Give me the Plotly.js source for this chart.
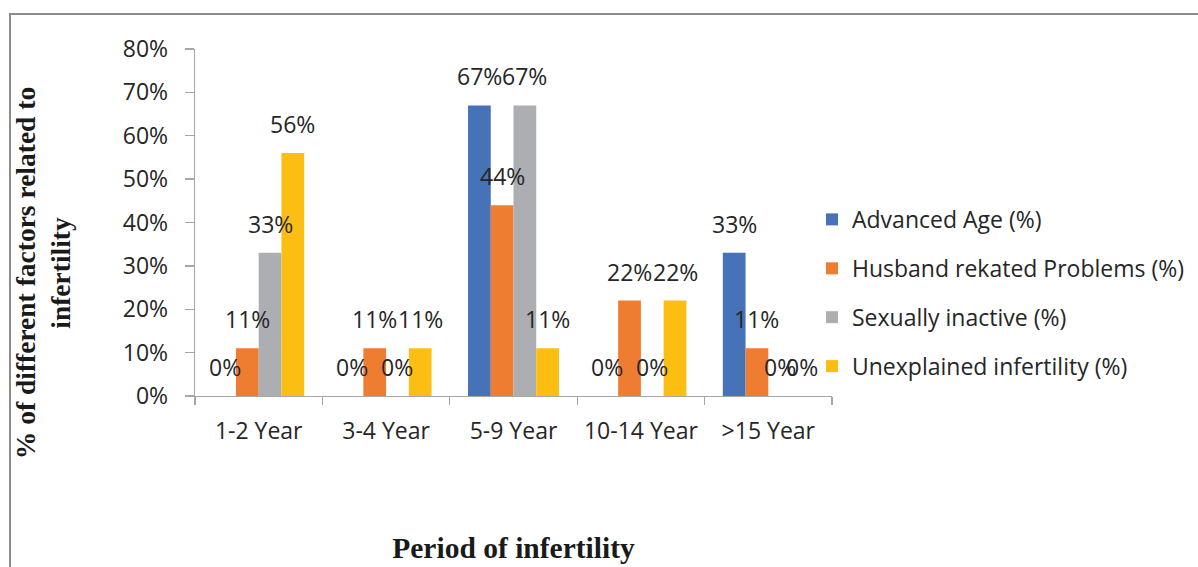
<!DOCTYPE html>
<html>
<head>
<meta charset="utf-8">
<script src="https://cdn.plot.ly/plotly-3.0.1.min.js"></script>
<style>
  html, body { margin: 0; padding: 0; background: #ffffff; overflow: hidden; width: 1198px; height: 567px; }
  #frame { position: absolute; left: 9px; top: 13px; width: 1400px; height: 800px;
           border: 2px solid #8c8c8c; box-sizing: border-box; }
  #chart { position: absolute; left: 0; top: 0; width: 1300px; height: 567px; }
</style>
</head>
<body>
<div id="frame"></div>
<div id="chart"></div>
<script>
// ---- data ----
const categories = ["1-2 Year", "3-4 Year", "5-9 Year", "10-14 Year", ">15 Year"];
const seriesNames = ["Advanced Age (%)", "Husband rekated Problems (%)", "Sexually inactive (%)", "Unexplained infertility (%)"];
const advancedAge   = [0, 0, 0.67, 0, 0.33];
const husbandProbs  = [0.11, 0.11, 0.44, 0.22, 0.11];
const sexInactive   = [0.33, 0, 0.67, 0, 0];
const unexplained   = [0.56, 0.11, 0.11, 0.22, 0];
const yTickVals  = [0, 0.1, 0.2, 0.3, 0.4, 0.5, 0.6, 0.7, 0.8];
const yTickText  = ["0%", "10%", "20%", "30%", "40%", "50%", "60%", "70%", "80%"];

// ---- style ----
const colors = ["#4672B8", "#EE7D31", "#ADAEB2", "#FDBE14"];
const font = "'Open Sans', 'Noto Sans', sans-serif";
const textCol = "#262626";
// canvas is drawn wider than the 1198px window so the legend never squeezes the plot
const W = 1300, H = 567;
const margin = {l: 195, r: 468, t: 49, b: 171};
const bargap = 0.286;

const allSeries = [advancedAge, husbandProbs, sexInactive, unexplained];

const traces = allSeries.map((vals, i) => ({
  type: "bar",
  name: seriesNames[i],
  x: categories,
  y: vals,
  legendgroup: "g" + i,
  marker: {color: colors[i], line: {width: 0}},
  hoverinfo: "x+y+name"
}));

// data labels as annotations, shifted over each bar of the group
const plotW = W - margin.l - margin.r;
const catW = plotW / categories.length;
const barW = catW * (1 - bargap) / allSeries.length;
const annotations = [];
allSeries.forEach((vals, i) => {
  vals.forEach((v, j) => {
    annotations.push({
      x: categories[j], y: v, xref: "x", yref: "y",
      text: Math.round(v * 100) + "%",
      showarrow: false,
      xanchor: "center", yanchor: "middle",
      xshift: (i - (allSeries.length - 1) / 2) * barW,
      yshift: 29,
      font: {family: font, size: 23, color: textCol}
    });
  });
});

// y-axis title (two lines, rotated)
annotations.push({
  xref: "paper", yref: "paper",
  x: -0.238, y: 0.355,
  xanchor: "center", yanchor: "middle",
  textangle: -90,
  text: "% of different factors related to<br>infertility",
  showarrow: false,
  font: {family: "'Liberation Serif', 'Times New Roman', serif", size: 27.5, color: "#1a1a1a", weight: "bold"}
});

const layout = {
  width: W, height: H,
  margin: margin,
  paper_bgcolor: "rgba(0,0,0,0)",
  plot_bgcolor: "rgba(0,0,0,0)",
  barmode: "group",
  bargap: bargap,
  bargroupgap: 0,
  showlegend: true,
  legend: {
    x: 0.9686, xanchor: "left",
    y: 0.297, yanchor: "middle",
    xref: "paper", yref: "paper",
    font: {family: font, size: 23, color: textCol},
    tracegroupgap: 16,
    bgcolor: "rgba(0,0,0,0)"
  },
  xaxis: {
    type: "category",
    showline: true, linecolor: "#A6A6A6", linewidth: 1.3,
    ticks: "outside", tickson: "boundaries", ticklen: 8, tickcolor: "#A6A6A6", tickwidth: 1.3,
    tickfont: {family: font, size: 23, color: textCol},
    tickangle: 0,
    ticklabelstandoff: 14,
    showgrid: false, zeroline: false,
    title: {
      text: "<b>Period of infertility</b>",
      font: {family: "'Liberation Serif', 'Times New Roman', serif", size: 29.5, color: "#1a1a1a"},
      standoff: 92
    },
    automargin: false
  },
  yaxis: {
    range: [0, 0.8],
    tickvals: yTickVals, ticktext: yTickText,
    showline: true, linecolor: "#A6A6A6", linewidth: 1.3,
    ticks: "outside", ticklen: 9, tickcolor: "#A6A6A6", tickwidth: 1.3,
    tickfont: {family: font, size: 23, color: textCol},
    ticklabelstandoff: 12,
    showgrid: false, zeroline: false,
    automargin: false
  },
  annotations: annotations
};

Plotly.newPlot("chart", traces, layout, {displayModeBar: false, staticPlot: true});
</script>
</body>
</html>
